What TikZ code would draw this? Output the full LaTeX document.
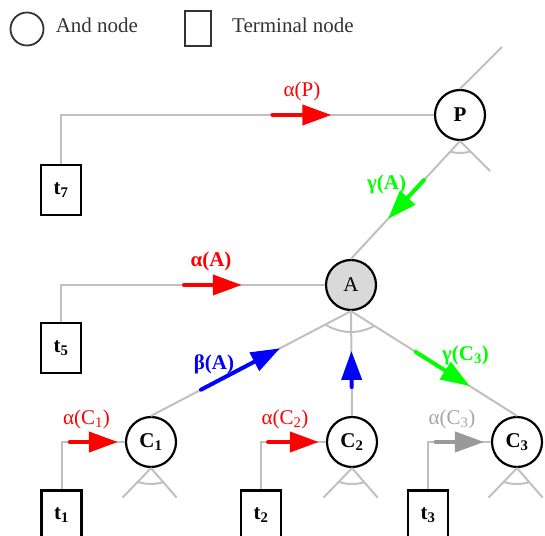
\documentclass[tikz,border=0pt]{standalone}
\usepackage{fontspec}
\setmainfont{Liberation Serif}
\usepackage{xcolor}
\usepackage{tikz}
\usetikzlibrary{positioning,arrows.meta,calc}
\definecolor{edgegray}{RGB}{192,192,192}
\definecolor{inkgray}{RGB}{51,51,51}
\definecolor{flowgray}{RGB}{153,153,153}
\definecolor{labgray}{RGB}{166,166,166}
\definecolor{andfill}{RGB}{217,217,217}
\newcommand{\idx}[1]{\textsubscript{#1}}

\begin{document}
\begin{tikzpicture}[x=1pt, y=1pt, font=\fontsize{21}{25}\selectfont,
	andnode/.style={circle, draw=black, line width=2.2pt, minimum size=50pt, inner sep=0pt},
	termnode/.style={rectangle, draw=black, line width=2.5pt, minimum width=40pt,
		minimum height=50pt, inner sep=0pt},
	link/.style={draw=edgegray, line width=2pt},
	flow/.style={line width=4pt, line cap=round, -{Triangle[length=29pt,width=20pt]}}]
		\useasboundingbox (0,0) rectangle (545,535);
		% legend
		\node[circle, draw=inkgray, line width=1.8pt, minimum size=33pt, inner sep=0pt]
		(keyand) at (27,506) {};
		\node[anchor=base west, inner sep=0pt, text=inkgray] (keyandtxt) at (55.6,502) {And node};
		\node[draw=inkgray, line width=2pt, minimum width=26pt, minimum height=35pt,
			inner sep=0pt] (keyterm) at (198,506) {};
		\node[anchor=base west, inner sep=0pt, text=inkgray] (keytermtxt) at (232,502) {Terminal node};
		% and nodes
		\node[andnode] (P) at (460,420) {\textbf{P}};
		\node[andnode, fill=andfill] (A) at (351,250) {A};
		\node[andnode] (C1) at (151,93) {\textbf{C\idx{1}}};
		\node[andnode] (C2) at (352,93) {\textbf{C\idx{2}}};
		\node[andnode] (C3) at (517,93) {\textbf{C\idx{3}}};
		% terminal nodes
		\node[termnode] (t7) at (61,345) {\textbf{t\idx{7}}};
		\node[termnode] (t5) at (61,187) {\textbf{t\idx{5}}};
		\node[termnode] (t1) at (61.5,19.5) {\textbf{t\idx{1}}};
		\node[termnode] (t2) at (261,19.5) {\textbf{t\idx{2}}};
		\node[termnode] (t3) at (428,19.5) {\textbf{t\idx{3}}};
		% corners of the terminal links
		\coordinate (t7P) at (t7.north |- P.west);
		\coordinate (t5A) at (t5.north |- A.west);
		\coordinate (t1C) at (t1.north |- C1.west);
		\coordinate (t2C) at (t2.north |- C2.west);
		\coordinate (t3C) at (t3.north |- C3.west);
		\coordinate (Pup) at (502,488);
		\coordinate (Pdown) at (490,364);
		% links
		\draw[link] (P.north) -- (Pup);
		\draw[link] (P.south) -- (Pdown);
		\draw[link] (P.south) -- (A.north);
		\draw[link] ($(P)+(255:38)$) arc[start angle=255, end angle=286, radius=38];
		\draw[link] (t7.north) |- (P.west);
		\draw[link] (t5.north) |- (A.west);
		\draw[link] (A.south) -- (C1.north);
		\draw[link] (A.south) -- (C2.north);
		\draw[link] (A.south) -- (C3.north);
		\draw[link] ($(A)+(237.3:47)$) arc[start angle=237.3, end angle=299.6, radius=47];
		\draw[link] (t1.north) |- (C1.west);
		\draw[link] (t2.north) |- (C2.west);
		\draw[link] (t3.north) |- (C3.west);
		\foreach \c in {C1,C2,C3}
			{\draw[link] (\c.south) -- ++(226:41);
				\draw[link] (\c.south) -- ++(311:39);
				\draw[link] ($(\c)+(251.7:42)$) arc[start angle=251.7, end angle=286.8, radius=42];}
		% messages
		\draw[flow, red] ($(t7P)!0.567!(P.west)$) -- ($(t7P)!0.725!(P.west)$);
		\draw[flow, green] ($(P.south)!0.33!(A.north)$) -- ($(P.south)!0.66!(A.north)$);
		\draw[flow, red] ($(t5A)!0.466!(A.west)$) -- ($(t5A)!0.685!(A.west)$);
		\draw[flow, blue] ($(C1.north)!0.25!(A.south)$) -- ($(C1.north)!0.645!(A.south)$);
		\draw[flow, blue] ($(C2.north)!0.275!(A.south)$) -- ($(C2.north)!0.62!(A.south)$);
		\draw[flow, green] ($(A.south)!0.39!(C3.north)$) -- ($(A.south)!0.715!(C3.north)$);
		\draw[flow, red] ($(t1C)!0.13!(C1.west)$) -- ($(t1C)!0.89!(C1.west)$);
		\draw[flow, red] ($(t2C)!0.11!(C2.west)$) -- ($(t2C)!0.89!(C2.west)$);
		\draw[flow, flowgray] ($(t3C)!0.12!(C3.west)$) -- ($(t3C)!0.89!(C3.west)$);
		% message labels
		\node[text=red] (aP) at (302,443.5) {α(P)};
		\node[text=green] (gA) at (386.5,351) {\textbf{γ(A)}};
		\node[text=red] (aA) at (211,274) {\textbf{α(A)}};
		\node[text=blue] (bA) at (214,171) {\textbf{β(A)}};
		\node[text=green] (gC3) at (465.5,179.5) {\textbf{γ(C\idx{3})}};
		\node[text=red] (aC1) at (86.5,115.5) {α(C\idx{1})};
		\node[text=red] (aC2) at (285,115.5) {α(C\idx{2})};
		\node[text=labgray] (aC3) at (452,115.5) {α(C\idx{3})};
	\end{tikzpicture}
\end{document}
